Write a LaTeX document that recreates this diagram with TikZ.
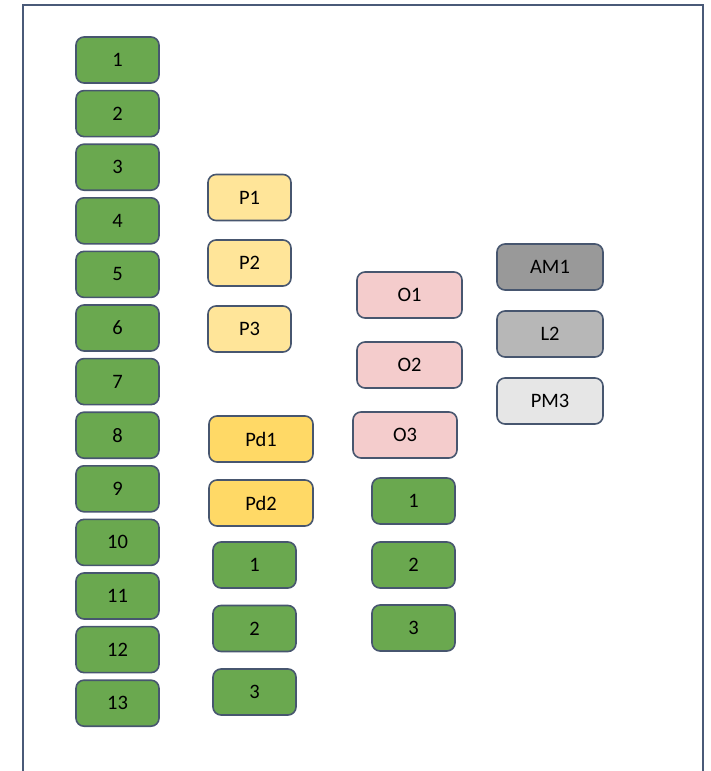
\documentclass[tikz,border=0pt]{standalone}
\usepackage{fontspec}
\setmainfont{Carlito}
\definecolor{frameblue}{HTML}{4A5A78}
\definecolor{edgeblue}{HTML}{47566F}
\definecolor{gfill}{HTML}{6AA84F}
\definecolor{pfill}{HTML}{FFE599}
\definecolor{pdfill}{HTML}{FFD966}
\definecolor{ofill}{HTML}{F4CCCC}
\definecolor{amfill}{HTML}{999999}
\definecolor{lfill}{HTML}{B7B7B7}
\definecolor{pmfill}{HTML}{E6E6E6}
\tikzset{
  box/.style={draw=edgeblue, line width=1.6pt, rounded corners=8pt,
    minimum width=83pt, minimum height=46pt, inner sep=0pt,
    font=\fontsize{20.5}{24}\selectfont, text=black},
  gbox/.style={box, fill=gfill},
  pbox/.style={box, fill=pfill},
  pdbox/.style={box, fill=pdfill, minimum width=104pt},
  obox/.style={box, fill=ofill, minimum width=105pt},
  greybox/.style={box, minimum width=106pt}
}
\begin{document}
\begin{tikzpicture}[x=1pt,y=-1pt]
\useasboundingbox (0,0) rectangle (711,771);
\draw[frameblue, line width=1.6pt] (23,771) -- (23,5) -- (703,5) -- (703,771);
% left column
\foreach \i in {1,...,13}{
  \node[gbox] (g\i) at (117.5,{60+53.6*(\i-1)}) {\i};
}
% P column
\node[pbox] (p1) at (249.5,197.5) {P1};
\node[pbox] (p2) at (249.5,263) {P2};
\node[pbox] (p3) at (249.5,329) {P3};
\node[pdbox] (pd1) at (261,439) {Pd1};
\node[pdbox] (pd2) at (261,503) {Pd2};
\node[gbox] (q1) at (254.5,565) {1};
\node[gbox] (q2) at (254.5,628.5) {2};
\node[gbox] (q3) at (254.5,692) {3};
% O column
\node[obox] (o1) at (409.5,295) {O1};
\node[obox] (o2) at (409.5,365) {O2};
\node[obox, minimum width=104pt] (o3) at (405,435) {O3};
\node[gbox] (r1) at (413.5,501) {1};
\node[gbox] (r2) at (413.5,565) {2};
\node[gbox] (r3) at (413.5,628) {3};
% grey column
\node[greybox, fill=amfill] (am1) at (550,267) {AM1};
\node[greybox, fill=lfill] (l2) at (550,334) {L2};
\node[greybox, fill=pmfill] (pm3) at (550,401) {PM3};
\end{tikzpicture}
\end{document}
